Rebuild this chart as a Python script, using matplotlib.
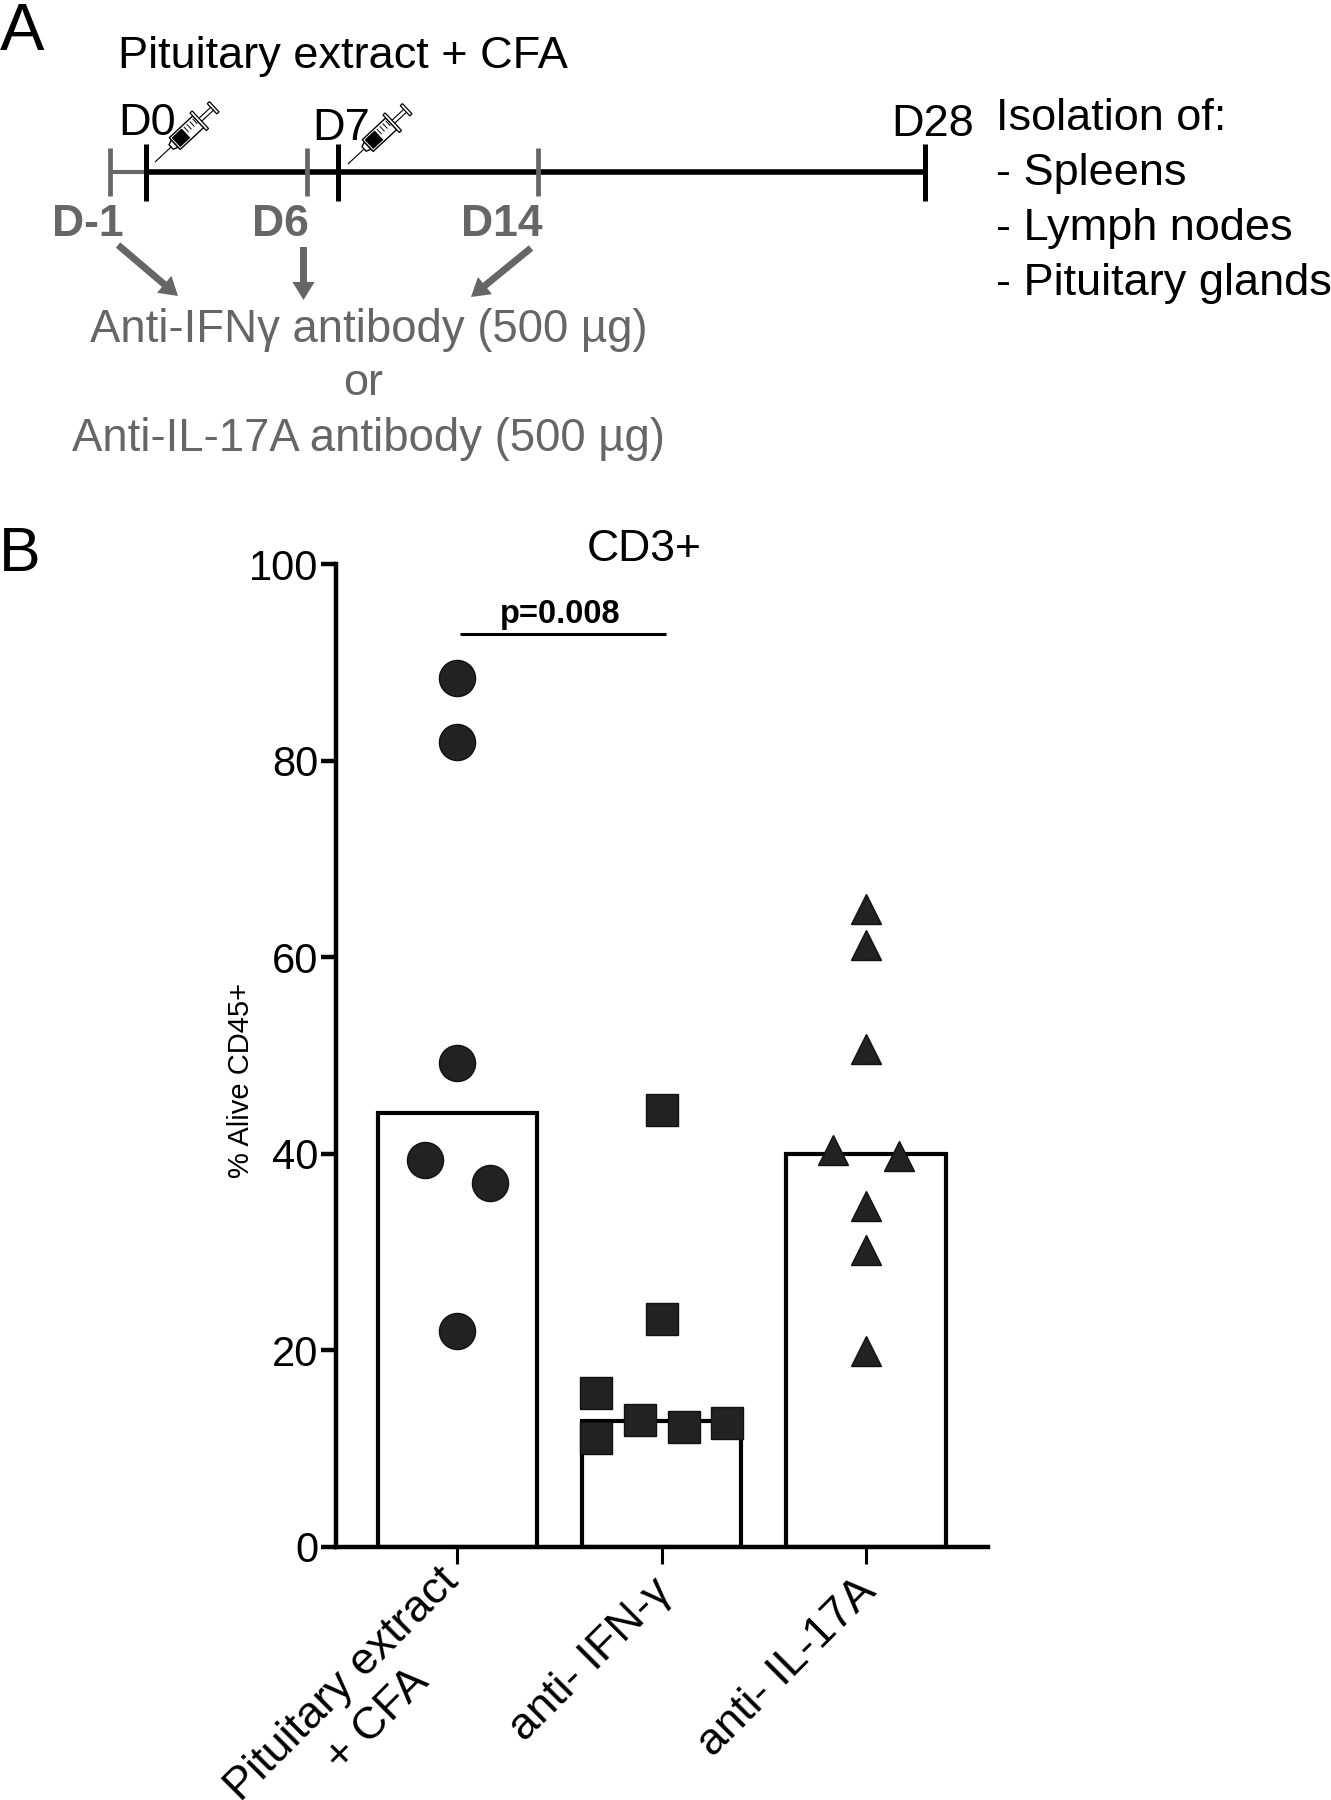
#!/usr/bin/env python3
"""Timeline schematic (A) and CD3+ bars with individual animals (B)."""
import numpy as np
import matplotlib
matplotlib.use('Agg')
import matplotlib.pyplot as plt
from matplotlib.patches import FancyArrowPatch, Polygon
from matplotlib.transforms import ScaledTranslation

plt.rcParams['font.family'] = ['Liberation Sans', 'DejaVu Sans']

W, H = 1331, 1800
BLACK = '#000000'
GREY = '#666666'
DARK = '#222222'

# panel B data
groups = ['Pituitary extract\n+ CFA', 'anti- IFN-γ', 'anti- IL-17A']
bar_means = [44.2, 12.8, 40.0]
pit_values = [88.4, 81.9, 49.2, 39.4, 37.0, 22.0]
pit_offsets = [0, 0, 0, -0.16, 0.16, 0]
ifn_values = [44.5, 23.2, 15.7, 11.1, 12.9, 12.2, 12.6]
ifn_offsets = [0, 0, -0.32, -0.32, -0.107, 0.107, 0.32]
il17_values = [64.9, 61.2, 50.7, 40.4, 39.8, 34.7, 30.2, 19.9]
il17_offsets = [0, 0, 0, -0.16, 0.16, 0, 0, 0]
yticks = [0, 20, 40, 60, 80, 100]

fig = plt.figure(figsize=(W / 100, H / 100), dpi=100, facecolor='white')

# panel B
ax = fig.add_axes([335.5 / W, 1 - 1547 / H, (988 - 335.5) / W, (1547 - 564) / H])
ax.bar(range(3), bar_means, width=0.78, facecolor='white', edgecolor=BLACK, linewidth=3)
series = [(pit_values, pit_offsets, 'o', 26),
          (ifn_values, ifn_offsets, 's', 22.5),
          (il17_values, il17_offsets, '^', 22)]
for i, (vals, offs, marker, ms) in enumerate(series):
    ax.plot(i + np.array(offs), vals, ls='none', marker=marker, ms=ms, color=DARK,
            mec='#111111', mew=1, zorder=5, clip_on=False)
ax.set_xlim(-0.596, 2.596)
ax.set_ylim(0, 100)
for s in ('top', 'right'):
    ax.spines[s].set_visible(False)
for s in ('left', 'bottom'):
    ax.spines[s].set_linewidth(3.2)
ax.set_yticks(yticks)
ax.tick_params(axis='y', labelsize=30, length=11, width=3.2, pad=1.5)
ax.set_xticks(range(3))
ax.set_xticklabels(groups, rotation=45, ha='right', rotation_mode='anchor',
                   fontsize=32.5, ma='center', linespacing=1.3)
ax.tick_params(axis='x', length=12, width=2.2, pad=8)
# the two-line label starts a bit further up and left than the others
label_shifts = [(-20, 15), (-11, 4), (-11, 4)]
for lab, (dx, dy) in zip(ax.get_xticklabels(), label_shifts):
    lab.set_transform(lab.get_transform() + ScaledTranslation(dx / 100, dy / 100, fig.dpi_scale_trans))
ax.patch.set_alpha(0)

# everything else sits on a full-figure pixel overlay
ov = fig.add_axes([0, 0, 1, 1], zorder=-1)
ov.set_xlim(0, W)
ov.set_ylim(H, 0)
ov.axis('off')


def syringe(x0, y0, angle=43):
    a = np.radians(angle)
    u = np.array([np.cos(a), -np.sin(a)])
    v = np.array([np.sin(a), np.cos(a)])
    pt = lambda t, w: np.array([x0, y0]) + t * u + w * v

    def seg(t1, w1, t2, w2, lw=1.0):
        p, q = pt(t1, w1), pt(t2, w2)
        ov.plot([p[0], q[0]], [p[1], q[1]], color=BLACK, lw=lw, solid_capstyle='butt')

    seg(0, 0, 22, 0, 0.8)
    ov.add_patch(Polygon([pt(22, -3), pt(22, 3), pt(27, 5), pt(27, -5)], fc='white', ec=BLACK, lw=1))
    ov.add_patch(Polygon([pt(27, -8), pt(27, 8), pt(59, 8), pt(59, -8)], fc='white', ec=BLACK, lw=1))
    ov.add_patch(Polygon([pt(29, -6), pt(29, 6), pt(42, 6), pt(42, -6)], fc=BLACK, ec=BLACK, lw=0.5))
    for t in (45, 49, 53, 57):
        seg(t, -6, t, 1, 0.7)
    ov.add_patch(Polygon([pt(59, -12), pt(59, 12), pt(62, 12), pt(62, -12)], fc='white', ec=BLACK, lw=0.9))
    seg(62, -2, 78, -2, 0.8)
    seg(62, 2, 78, 2, 0.8)
    ov.add_patch(Polygon([pt(78, -7), pt(78, 7), pt(81, 7), pt(81, -7)], fc='white', ec=BLACK, lw=0.9))


# timeline
ov.plot([110, 146], [172, 172], color=GREY, lw=3, solid_capstyle='butt')
ov.plot([146, 925], [172, 172], color=BLACK, lw=4, solid_capstyle='butt')
for x in (110, 307, 538):
    ov.plot([x, x], [148, 196], color=GREY, lw=3.4, solid_capstyle='butt')
for x in (145.5, 337.5, 925):
    ov.plot([x, x], [144, 201], color=BLACK, lw=3.6, solid_capstyle='butt')
syringe(155, 162)
syringe(348, 164)

ov.text(0, 50, 'A', fontsize=48, va='baseline')
ov.text(-1, 571, 'B', fontsize=45, va='baseline')
ov.text(118, 68, 'Pituitary extract + CFA', fontsize=32.5, va='baseline')
ov.text(118, 135, 'D0', fontsize=32.5, va='baseline')
ov.text(312, 140, 'D7', fontsize=32.5, va='baseline')
ov.text(891, 136, 'D28', fontsize=32.5, va='baseline')
for label, x in (('D-1', 88), ('D6', 280), ('D14', 502)):
    ov.text(x, 236, label, fontsize=32, fontweight='bold', color=GREY, ha='center', va='baseline')
for label, y in (('Isolation of:', 130), ('- Spleens', 185), ('- Lymph nodes', 240), ('- Pituitary glands', 295)):
    ov.text(996, y, label, fontsize=32.5, va='baseline')
for start, end in (((118, 245), (178, 296)), ((303.5, 247), (303.5, 300)), ((531, 248), (471, 297))):
    ov.add_patch(FancyArrowPatch(start, end, arrowstyle='simple,head_length=1.3,head_width=1.6,tail_width=0.5',
                                 mutation_scale=10, color=GREY, lw=0, shrinkA=0, shrinkB=0))
ov.text(369, 342, 'Anti-IFNγ antibody (500 µg)', fontsize=32.8, color=GREY, ha='center', va='baseline')
ov.text(363, 395, 'or', fontsize=32.5, color=GREY, ha='center', va='baseline')
ov.text(369, 451, 'Anti-IL-17A antibody (500 µg)', fontsize=32.8, color=GREY, ha='center', va='baseline')

ov.text(644, 561, 'CD3+', fontsize=32, ha='center', va='baseline')
ov.text(560, 623, 'p=0.008', fontsize=23.5, fontweight='bold', ha='center', va='baseline')
ov.plot([460, 666], [634, 634], color=BLACK, lw=2.2, solid_capstyle='butt')
ov.text(241, 1081, '% Alive CD45+', fontsize=21, rotation=90, ha='center', va='center')

fig.savefig('out.png', dpi=100)
